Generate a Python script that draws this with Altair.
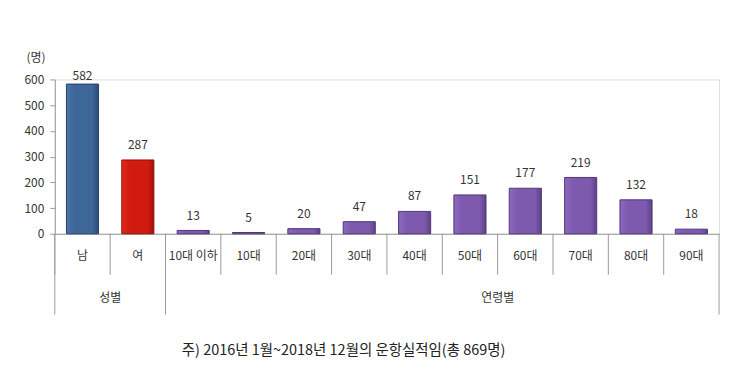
import altair as alt
import pandas as pd

categories = ["남", "여", "10대 이하", "10대", "20대", "30대", "40대", "50대", "60대", "70대", "80대", "90대"]
values = [582, 287, 13, 5, 20, 47, 87, 151, 177, 219, 132, 18]
bar_kind = ["남", "여"] + ["연령"] * 10
kind_names = ["남", "여", "연령"]
kind_light = ["#4A75AA", "#E02A1C", "#8D6ABF"]
kind_fill = ["#3D6699", "#D11A10", "#7D5AAE"]
kind_dark = ["#2C4C77", "#A3130B", "#5E4288"]
kind_stroke = ["#26426B", "#8E1009", "#4F3676"]

groups = ["성별", "연령별"]
group_first = ["남", "10대 이하"]
group_mid = ["여", "60대"]
last_category = ["90대"]
y_ticks = [0, 100, 200, 300, 400, 500, 600]
footnote = ["주) 2016년 1월~2018년 12월의 운항실적임(총 869명)"]

FONT = "Noto Sans CJK KR"
TEXT = "#333333"
LINE = "#9A9A9A"
W, H = 667, 155
STEP = W / len(categories)
HALF_GAP = STEP * 0.42 / 2

df = pd.DataFrame({"cat": categories, "value": values, "kind": bar_kind})
gdf = pd.DataFrame({"group": groups, "first": group_first, "mid": group_mid})
edf = pd.DataFrame({"cat": last_category})
fdf = pd.DataFrame({"note": footnote})

xs = alt.Scale(domain=categories, paddingInner=0.42, paddingOuter=0.21)
ys = alt.Scale(domain=[0, 600], nice=False)

xaxis = alt.Axis(title=None, labelAngle=0, ticks=False, labelPadding=17,
                 domainColor=LINE, labelColor=TEXT, labelFont=FONT, labelFontSize=12)
yaxis = alt.Axis(values=y_ticks, grid=False, tickSize=5, labelPadding=6,
                 labelOverlap=False,
                 domainColor=LINE, tickColor=LINE, labelColor=TEXT,
                 labelFont=FONT, labelFontSize=12,
                 title="(명)", titleAngle=0, titleAlign="left",
                 titleBaseline="middle", titleX=-29, titleY=-22,
                 titleFont=FONT, titleFontSize=12, titleFontWeight="normal",
                 titleColor=TEXT)

base = alt.Chart(df)

bar_layers = []
for k, light, mid, dark, edge in zip(kind_names, kind_light, kind_fill, kind_dark, kind_stroke):
    grad = alt.Gradient(
        gradient="linear", x1=0, x2=1, y1=0, y2=0,
        stops=[alt.GradientStop(color=light, offset=0),
               alt.GradientStop(color=mid, offset=0.25),
               alt.GradientStop(color=mid, offset=0.8),
               alt.GradientStop(color=dark, offset=1)],
    )
    bar_layers.append(
        base.transform_filter(alt.datum.kind == k).mark_bar(
            color=grad, stroke=edge, strokeWidth=1
        ).encode(
            x=alt.X("cat:N", scale=xs, sort=categories, axis=xaxis),
            y=alt.Y("value:Q", scale=ys, axis=yaxis),
        )
    )

labels = base.transform_calculate(
    ly="min(datum.value + 58, 612)"
).mark_text(font=FONT, fontSize=12, color=TEXT, baseline="middle").encode(
    x=alt.X("cat:N", scale=xs, sort=categories, axis=xaxis),
    y=alt.Y("ly:Q", scale=ys, axis=yaxis),
    text=alt.Text("value:Q"),
)

separators = base.mark_rule(color=LINE, xOffset=-HALF_GAP).encode(
    x=alt.X("cat:N", scale=xs, bandPosition=0, axis=xaxis),
    y=alt.YDatum(0, scale=ys, axis=yaxis), y2=alt.Y2Datum(-159),
)

grp = alt.Chart(gdf)
start_rules = grp.mark_rule(color=LINE, xOffset=-HALF_GAP).encode(
    x=alt.X("first:N", scale=xs, bandPosition=0, axis=xaxis),
    y=alt.YDatum(0, scale=ys, axis=yaxis), y2=alt.Y2Datum(-314),
)
end_rule = alt.Chart(edf).mark_rule(color=LINE, xOffset=HALF_GAP).encode(
    x=alt.X("cat:N", scale=xs, bandPosition=1, axis=xaxis),
    y=alt.YDatum(0, scale=ys, axis=yaxis), y2=alt.Y2Datum(-314),
)
group_text = grp.mark_text(font=FONT, fontSize=12, color=TEXT, baseline="middle",
                           xOffset=-HALF_GAP).encode(
    x=alt.X("mid:N", scale=xs, bandPosition=0, axis=xaxis),
    y=alt.YDatum(-248, scale=ys, axis=yaxis),
    text="group:N",
)

note = alt.Chart(fdf).mark_text(font=FONT, fontSize=14.5, color="#222222",
                                baseline="middle", align="center").encode(
    x=alt.value(290),
    y=alt.YDatum(-457, scale=ys, axis=yaxis),
    text="note:N",
)

chart = alt.layer(*bar_layers, labels, separators, start_rules, end_rule, group_text, note).properties(
    width=W, height=H,
    autosize=alt.AutoSizeParams(type="none"),
    padding={"left": 47, "top": 71, "right": 12, "bottom": 126},
).configure_view(stroke=None).configure(background="white").configure_axisY(labelOverlap=False)

chart.save("out.html", embed_options={"renderer": "svg", "actions": False})
